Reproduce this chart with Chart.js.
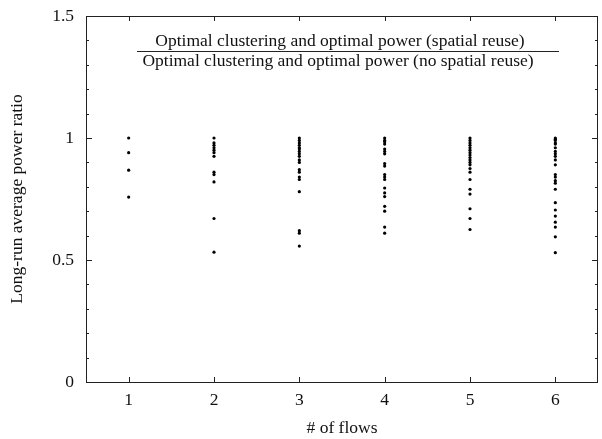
<!DOCTYPE html>
<html>
<head>
<meta charset="utf-8">
<script src="https://cdn.jsdelivr.net/npm/chart.js@4/dist/chart.umd.min.js"></script>
<style>
  html, body { margin: 0; padding: 0; background: #fff; }
  #wrap { width: 602px; height: 439px; }
</style>
</head>
<body>
<div id="wrap"><canvas id="ratio_chart"></canvas></div>
<script>
// # of flows on the x axis, one list of measured ratios per flow count
const flowCounts = [1, 2, 3, 4, 5, 6];
const ratios1 = [1.0, 0.94, 0.868, 0.758];
const ratios2 = [1.0, 0.98, 0.97, 0.96, 0.95, 0.94, 0.925, 0.86, 0.85, 0.82, 0.67, 0.532];
const ratios3 = [1.0, 0.99, 0.98, 0.97, 0.96, 0.955, 0.945, 0.935, 0.925, 0.91, 0.9,
                 0.87, 0.86, 0.84, 0.83, 0.78, 0.62, 0.61, 0.557];
const ratios4 = [1.0, 0.99, 0.985, 0.975, 0.955, 0.945, 0.935, 0.895, 0.885, 0.85, 0.84,
                 0.83, 0.795, 0.775, 0.76, 0.72, 0.70, 0.635, 0.61];
const ratios5 = [1.0, 0.99, 0.98, 0.97, 0.96, 0.95, 0.94, 0.93, 0.92, 0.91, 0.9, 0.89,
                 0.875, 0.86, 0.83, 0.79, 0.77, 0.71, 0.67, 0.625];
const ratios6 = [1.0, 0.995, 0.99, 0.98, 0.975, 0.96, 0.945, 0.935, 0.925, 0.91, 0.89,
                 0.85, 0.84, 0.825, 0.815, 0.79, 0.735, 0.705, 0.68, 0.655, 0.635, 0.595, 0.53];
const yMajorTicks = [0, 0.5, 1, 1.5];
const keyTop = 'Optimal clustering and optimal power (spatial reuse)';
const keyBottom = 'Optimal clustering and optimal power (no spatial reuse)';

const allRatios = [ratios1, ratios2, ratios3, ratios4, ratios5, ratios6];
const points = [];
flowCounts.forEach((n, i) => {
  allRatios[i].forEach(v => points.push({ x: n, y: v }));
});

const serif = "'Liberation Serif', 'DejaVu Serif', serif";
const ink = '#222';
const fontSize = 17.5;

// gnuplot style frame: box round the plot, ticks pointing inward on all sides
const frame = {
  id: 'frame',
  afterDatasetsDraw(chart) {
    let { ctx, chartArea: a, scales: { x, y } } = chart;
    ctx.save();
    ctx.strokeStyle = ink;
    ctx.lineWidth = 1;
    ctx.strokeRect(a.left + 0.5, a.top + 0.5, a.right - a.left - 1, a.bottom - a.top);
    ctx.beginPath();
    y.ticks.forEach(t => {
      let py = Math.round(y.getPixelForValue(t.value)) + 0.5;
      let len = yMajorTicks.includes(Math.round(t.value * 10) / 10) ? 6 : 3;
      ctx.moveTo(a.left, py); ctx.lineTo(a.left + len, py);
      ctx.moveTo(a.right, py); ctx.lineTo(a.right - len, py);
    });
    flowCounts.forEach(n => {
      let px = Math.round(x.getPixelForValue(n)) + 0.5;
      ctx.moveTo(px, a.bottom); ctx.lineTo(px, a.bottom - 5);
      ctx.moveTo(px, a.top); ctx.lineTo(px, a.top + 5);
    });
    ctx.stroke();

    // key: ratio written as a fraction
    ctx.fillStyle = '#111';
    ctx.font = fontSize + 'px ' + serif;
    ctx.textAlign = 'center';
    ctx.textBaseline = 'alphabetic';
    ctx.fillText(keyTop, 340, 46);
    ctx.fillText(keyBottom, 338, 65.5);
    ctx.beginPath();
    ctx.moveTo(137, 51.5); ctx.lineTo(559, 51.5);
    ctx.stroke();
    ctx.restore();
  }
};

let data = {
  datasets: [
    {
      label: 'ratio',
      data: points,
      pointRadius: 1.6,
      pointBorderWidth: 0,
      pointBackgroundColor: '#000',
      showLine: false
    }
  ]
};

let options = {
  responsive: true,
  maintainAspectRatio: false,
  animation: false,
  layout: { padding: { top: 16, right: 1, bottom: 0, left: 0 } },
  plugins: { legend: { display: false }, tooltip: { enabled: false } },
  scales: {
    x: {
      type: 'linear',
      min: 0.5,
      max: 6.5,
      grid: { display: false, drawTicks: false },
      border: { display: false },
      afterBuildTicks: scale => { scale.ticks = flowCounts.map(v => ({ value: v })); },
      ticks: {
        padding: 8,
        color: '#111',
        font: { family: serif, size: fontSize },
        callback: v => String(v)
      },
      title: {
        display: true,
        text: '# of flows',
        color: '#111',
        font: { family: serif, size: fontSize },
        padding: { top: 0, bottom: 0 }
      },
      afterFit: scale => {
        scale.height = 57;
        scale.paddingLeft = 0;
        scale.paddingRight = 0;
      }
    },
    y: {
      min: 0,
      max: 1.5,
      grid: { display: false, drawTicks: false },
      border: { display: false },
      ticks: {
        stepSize: 0.1,
        padding: 12,
        autoSkip: false,
        color: '#111',
        font: { family: serif, size: fontSize },
        callback: v => {
          let r = Math.round(v * 10) / 10;
          return yMajorTicks.includes(r) ? String(r) : '';
        }
      },
      title: {
        display: true,
        text: 'Long-run average power ratio',
        color: '#111',
        font: { family: serif, size: fontSize },
        padding: { top: 7, bottom: 0 }
      },
      afterFit: scale => {
        scale.width = 86;
        scale.paddingTop = 0;
        scale.paddingBottom = 0;
      }
    }
  }
};

new Chart('ratio_chart', { type: 'scatter', plugins: [frame], data, options });
</script>
</body>
</html>
